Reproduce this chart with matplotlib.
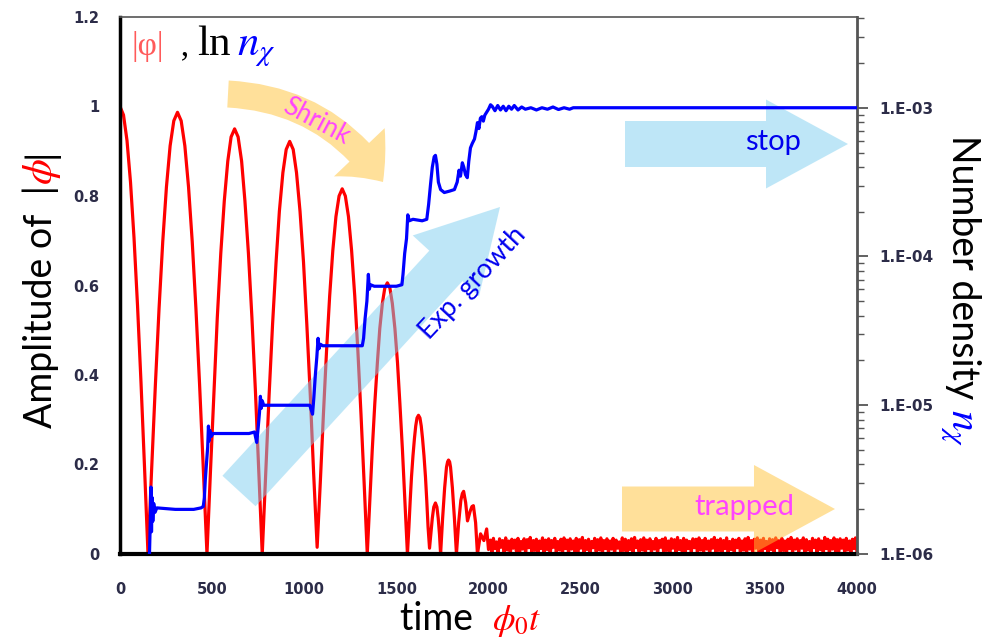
import numpy as np
import matplotlib
matplotlib.use("Agg")
import matplotlib.pyplot as plt
from matplotlib.patches import FancyArrowPatch
from matplotlib.ticker import FixedLocator, LogLocator, NullFormatter

# |phi| amplitude (left axis)
phi_t = [0, 19, 38, 57, 76, 95, 114, 133,
         152, 172, 192, 212, 232, 252, 272, 292, 312, 332, 352, 372, 392, 412, 432, 452,
         472, 491, 510, 528, 547, 566, 585, 603, 622, 641, 660, 678, 697, 716, 735, 753,
         772, 791, 809, 828, 847, 865, 884, 902, 921, 940, 958, 977, 996, 1014, 1033, 1051,
         1070, 1087, 1104, 1121, 1138, 1155, 1172, 1189, 1206, 1223, 1240, 1257, 1274, 1291, 1308, 1325,
         1342, 1356, 1369, 1383, 1397, 1410, 1424, 1437, 1451, 1465, 1478, 1492, 1506, 1519, 1533, 1546,
         1560, 1568, 1575, 1582, 1590, 1598, 1605, 1612, 1620, 1628, 1635, 1642, 1650, 1658, 1665, 1672,
         1680, 1687, 1695, 1703, 1712, 1720, 1727, 1734,
         1740, 1751, 1762, 1772, 1778, 1783, 1789, 1794, 1804, 1815,
         1826, 1838, 1850, 1858, 1865, 1876, 1886, 1900, 1910, 1918, 1930, 1940,
         1957, 1975, 1990, 2000]
phi_amp = [1.0, 0.981, 0.924, 0.831, 0.707, 0.556, 0.383, 0.195,
           0.0, 0.192, 0.378, 0.549, 0.698, 0.820, 0.912, 0.968, 0.987, 0.968, 0.912, 0.820, 0.698, 0.549, 0.378, 0.192,
           0.0, 0.185, 0.364, 0.528, 0.672, 0.789, 0.878, 0.932, 0.95, 0.932, 0.878, 0.789, 0.672, 0.528, 0.364, 0.185,
           0.0, 0.18, 0.353, 0.513, 0.652, 0.766, 0.852, 0.904, 0.922, 0.904, 0.852, 0.766, 0.652, 0.513, 0.353, 0.18,
           0.015, 0.159, 0.312, 0.454, 0.577, 0.678, 0.754, 0.80, 0.816, 0.80, 0.754, 0.678, 0.577, 0.454, 0.312, 0.159,
           0.0, 0.118, 0.232, 0.337, 0.428, 0.504, 0.56, 0.594, 0.606, 0.594, 0.56, 0.504, 0.428, 0.337, 0.232, 0.118,
           0.0, 0.06, 0.119, 0.172, 0.219, 0.258, 0.286, 0.304, 0.31, 0.304, 0.286, 0.258, 0.219, 0.172, 0.119, 0.06,
           0.013, 0.044, 0.08, 0.105, 0.114, 0.105, 0.08, 0.044,
           0.0, 0.08, 0.148, 0.194, 0.206, 0.21, 0.206, 0.194, 0.148, 0.08,
           0.0, 0.07, 0.12, 0.135, 0.14, 0.115, 0.074, 0.095, 0.106, 0.108, 0.07, 0.0,
           0.045, 0.03, 0.056, 0.01]

# trapped phase: small fast oscillation from t=2010 to t=4000
trap_amp = [0.031, 0.003, 0.035, 0.012, 0.027, 0.000, 0.034, 0.015, 0.030, 0.004,
            0.036, 0.009, 0.029, 0.001, 0.033, 0.013, 0.031, 0.006, 0.035, 0.000,
            0.028, 0.011, 0.034, 0.002, 0.032, 0.014, 0.037, 0.005, 0.030, 0.008,
            0.033, 0.000, 0.029, 0.012, 0.036, 0.003, 0.031, 0.010, 0.034, 0.001,
            0.030, 0.015, 0.035, 0.004, 0.028, 0.009, 0.033, 0.000, 0.036, 0.012,
            0.031, 0.002, 0.034, 0.011, 0.029, 0.006, 0.035, 0.000, 0.032, 0.013,
            0.037, 0.004, 0.030, 0.010, 0.033, 0.001, 0.028, 0.014, 0.035, 0.005,
            0.032, 0.009, 0.036, 0.000, 0.030, 0.012, 0.034, 0.003, 0.029, 0.011,
            0.035, 0.001, 0.031, 0.013, 0.027, 0.004, 0.036, 0.008, 0.033, 0.000,
            0.030, 0.010, 0.034, 0.002, 0.037, 0.014, 0.029, 0.005, 0.032, 0.009,
            0.036, 0.000, 0.031, 0.012, 0.034, 0.003, 0.028, 0.011, 0.035, 0.001,
            0.030, 0.015, 0.033, 0.004, 0.036, 0.008, 0.029, 0.000, 0.034, 0.013,
            0.032, 0.002, 0.037, 0.010, 0.030, 0.006, 0.035, 0.000, 0.031, 0.012,
            0.028, 0.004, 0.034, 0.014, 0.033, 0.001, 0.036, 0.009, 0.030, 0.003,
            0.035, 0.011, 0.029, 0.000, 0.032, 0.013, 0.037, 0.005, 0.031, 0.008,
            0.034, 0.000, 0.030, 0.012, 0.036, 0.002, 0.028, 0.010, 0.033, 0.004,
            0.031, 0.014, 0.035, 0.001, 0.029, 0.009, 0.034, 0.000, 0.037, 0.011,
            0.030, 0.003, 0.033, 0.013, 0.036, 0.006, 0.031, 0.000, 0.035, 0.012,
            0.028, 0.002, 0.034, 0.010, 0.032, 0.004, 0.036, 0.014, 0.030, 0.001,
            0.035, 0.008, 0.029, 0.000, 0.033, 0.012, 0.037, 0.003, 0.031, 0.011,
            0.034, 0.005, 0.030, 0.013, 0.036, 0.000, 0.032, 0.009, 0.028, 0.002,
            0.035, 0.014, 0.031, 0.004, 0.034, 0.010, 0.029, 0.000, 0.037, 0.012,
            0.033, 0.001, 0.030, 0.011, 0.036, 0.006, 0.032, 0.000, 0.034, 0.013,
            0.031, 0.003, 0.035, 0.009, 0.029, 0.000, 0.033, 0.012, 0.036, 0.004]
trap_t = np.linspace(2010, 4000, len(trap_amp))

# number density (right axis, log10 values)
n_t = [158, 165, 168, 171, 174, 178, 183, 190, 200, 300, 400, 440, 452,
       458, 463, 470, 476, 480, 484, 488, 495, 505, 600, 700, 730,
       742, 750, 757, 762, 767, 772, 780, 900, 1030,
       1045, 1052, 1060, 1068, 1075, 1080, 1088, 1100, 1200, 1315,
       1322, 1330, 1340, 1348, 1353, 1360, 1380, 1500, 1530,
       1536, 1545, 1555, 1562, 1570, 1590, 1640, 1665,
       1675, 1685, 1695, 1705, 1712, 1720, 1728, 1740, 1760, 1790, 1815,
       1830, 1840, 1848, 1858, 1866, 1875, 1885, 1893, 1902, 1912, 1924,
       1932, 1940, 1948, 1956, 1964, 1972, 1980, 1990, 2000, 2011,
       2020, 2035, 2050, 2065, 2080, 2095, 2110, 2125, 2140, 2160, 2180,
       2200, 2230, 2260, 2290, 2320, 2350, 2380, 2410, 2440, 2460, 4000]
n_log = [-6.1, -5.75, -5.55, -5.85, -5.62, -5.78, -5.66, -5.72, -5.69, -5.70, -5.70, -5.69, -5.68,
         -5.62, -5.50, -5.38, -5.28, -5.14, -5.24, -5.17, -5.21, -5.19, -5.19, -5.19, -5.18,
         -5.25, -5.15, -5.05, -4.94, -5.02, -4.97, -5.00, -5.00, -5.00,
         -5.06, -4.95, -4.80, -4.68, -4.55, -4.62, -4.59, -4.60, -4.60, -4.60,
         -4.55, -4.42, -4.30, -4.12, -4.22, -4.19, -4.20, -4.20, -4.19,
         -4.12, -3.98, -3.88, -3.72, -3.76, -3.75, -3.76, -3.75,
         -3.65, -3.52, -3.40, -3.33, -3.32, -3.38, -3.50, -3.55, -3.57, -3.56, -3.55,
         -3.50, -3.42, -3.46, -3.37, -3.40, -3.45, -3.47, -3.36, -3.27, -3.24, -3.21,
         -3.16, -3.10, -3.14, -3.07, -3.06, -3.09, -3.05, -3.03, -3.01, -2.98,
         -2.99, -3.02, -2.985, -3.015, -2.99, -3.02, -2.99, -3.01, -2.985, -3.015, -2.995,
         -3.01, -3.0, -3.015, -3.0, -3.01, -2.995, -3.012, -3.0, -3.01, -3.0, -3.0]

left_ticks = [0, 0.2, 0.4, 0.6, 0.8, 1.0, 1.2]
left_labels = ["0", "0.2", "0.4", "0.6", "0.8", "1", "1.2"]
right_ticks = [1e-6, 1e-5, 1e-4, 1e-3]
right_labels = ["1.E-06", "1.E-05", "1.E-04", "1.E-03"]
x_ticks = [0, 500, 1000, 1500, 2000, 2500, 3000, 3500, 4000]

W, H = 999, 641
tick_col = "#2c2c48"
blue_fill = "#7fcff0"
orange_fill = "#ffc236"
magenta = "#ff44ff"
plt.rcParams["mathtext.fontset"] = "stix"

fig = plt.figure(figsize=(W / 100, H / 100), dpi=100)
ax1 = fig.add_axes([120 / W, 1 - 554 / H, 737 / W, 537 / H])


def px(x, y):
    return (x / W, 1 - y / H)


ax1.plot(phi_t + list(trap_t), phi_amp + trap_amp, color="#ff0000", lw=2.3, zorder=2)
ax1.set_xlim(0, 4000)
ax1.set_ylim(0, 1.2)
ax1.set_xticks(x_ticks)
ax1.set_yticks(left_ticks)
ax1.set_yticklabels(left_labels)
ax1.tick_params(axis="both", length=0, labelsize=10.5, labelcolor=tick_col)
ax1.tick_params(axis="y", pad=15)
ax1.tick_params(axis="x", pad=20)
for lbl in ax1.get_xticklabels() + ax1.get_yticklabels():
    lbl.set_fontweight("bold")
ax1.spines["left"].set_color("black")
ax1.spines["left"].set_linewidth(2.5)
ax1.spines["bottom"].set_color("black")
ax1.spines["bottom"].set_linewidth(3)
ax1.spines["top"].set_color("#555555")
ax1.spines["top"].set_linewidth(1.2)
ax1.spines["right"].set_visible(False)

ax2 = ax1.twinx()
ax2.plot(n_t, 10 ** np.array(n_log), color="#0000ff", lw=2.3, zorder=3)
ax2.set_yscale("log")
ax2.set_ylim(1e-6, 10 ** -2.39)
ax2.yaxis.set_major_locator(FixedLocator(right_ticks))
ax2.set_yticklabels(right_labels, fontweight="bold")
ax2.yaxis.set_minor_locator(LogLocator(base=10, subs=np.arange(2, 10)))
ax2.yaxis.set_minor_formatter(NullFormatter())
ax2.tick_params(axis="y", which="major", length=8, width=1.3, color="#555555",
                labelsize=11, labelcolor=tick_col, pad=8)
ax2.tick_params(axis="y", which="minor", length=5, width=1.0, color="#555555")
for side in ["left", "bottom", "top"]:
    ax2.spines[side].set_visible(False)
ax2.spines["right"].set_color("#555555")
ax2.spines["right"].set_linewidth(2)


# big translucent arrows (pixel positions in the figure)
def big_arrow(p0, p1, body, head_w, head_l, color, rad=0.0):
    pt = 72 / 100
    a = FancyArrowPatch(px(*p0), px(*p1), transform=fig.transFigure,
                        arrowstyle=f"simple,head_length={head_l * pt},head_width={head_w * pt},tail_width={body * pt}",
                        connectionstyle=f"arc3,rad={rad}", mutation_scale=1,
                        shrinkA=0, shrinkB=0, color=color, alpha=0.5, lw=0,
                        clip_on=False, zorder=2.5)
    ax1.add_artist(a)


big_arrow((228, 94), (383, 182), 27, 70, 38, orange_fill, rad=-0.25)
big_arrow((239, 491), (500, 207), 45, 90, 80, blue_fill)
big_arrow((625, 144), (848, 144), 46, 89, 82, blue_fill)
big_arrow((622, 509), (835, 509), 45, 88, 81, orange_fill)

fig.text(*px(316, 121), "Shrink", color=magenta, fontsize=18.5, family="Lato",
         rotation=-28, ha="center", va="center")
fig.text(*px(473, 283), "Exp. growth", color="#0000ee", fontsize=19.5, family="Lato",
         rotation=47, ha="center", va="center")
fig.text(*px(773, 142), "stop", color="#0000ee", fontsize=21, family="Lato",
         ha="center", va="center")
fig.text(*px(744, 507), "trapped", color=magenta, fontsize=21, family="Lato",
         ha="center", va="center")

fig.canvas.draw()
renderer = fig.canvas.get_renderer()


def chain(pieces, start, rotation=0):
    # place text pieces one after another (pixel start, baseline anchor)
    x, y = start
    for s, kw in pieces:
        t = fig.text(*px(x, y), s, rotation=rotation, rotation_mode="anchor",
                     ha="left", va="baseline", **kw)
        ext = t.get_window_extent(renderer)
        if rotation == 0:
            x += ext.width
        elif rotation == 90:
            y -= ext.height
        else:
            y += ext.height


lab = dict(family="Lato", fontsize=27, color="black")
chain([("Amplitude of  |", lab),
       (r"$\phi$", dict(fontsize=30, color="#ff0000")),
       ("|", lab)], (52, 428), rotation=90)
chain([("Number density ", lab),
       (r"$n_\chi$", dict(fontsize=30, color="#0000ff"))], (952, 135), rotation=270)
chain([("time  ", lab),
       (r"$\phi_0 t$", dict(fontsize=26, color="#ff0000"))], (400, 630))

serif = dict(fontsize=24, family="Liberation Serif")
chain([("|φ|", dict(color="#ff5a5a", **serif)),
       ("  , ", dict(color="black", **serif)),
       ("ln", dict(color="black", fontsize=31, family="Liberation Serif")),
       (" ", dict(color="black", fontsize=14)),
       (r"$n_{\chi}$", dict(color="#0000ff", fontsize=31))], (131, 55))

fig.savefig("out.png", dpi=100)
